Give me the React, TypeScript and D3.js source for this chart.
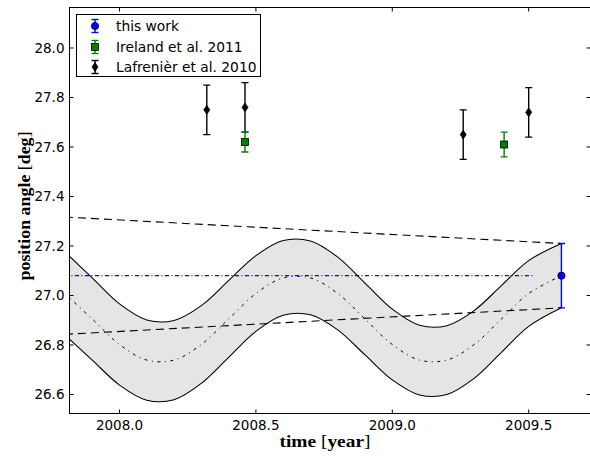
import React from "react";
import * as d3 from "d3";

// ---- data ----
const xTicks = [2008.0, 2008.5, 2009.0, 2009.5];
const yTicks = [26.6, 26.8, 27.0, 27.2, 27.4, 27.6, 27.8, 28.0];

const modelTimes = [2007.8, 2007.9, 2008.0, 2008.1, 2008.2, 2008.3, 2008.4, 2008.5, 2008.6, 2008.7, 2008.8, 2008.9, 2009.0, 2009.1, 2009.2, 2009.3, 2009.4, 2009.5, 2009.62];
const modelUpper = [27.176, 27.071, 26.966, 26.901, 26.899, 26.959, 27.06, 27.161, 27.222, 27.22, 27.155, 27.05, 26.945, 26.88, 26.878, 26.939, 27.04, 27.141, 27.21];
const modelLower = [26.84, 26.739, 26.638, 26.577, 26.579, 26.645, 26.75, 26.855, 26.92, 26.922, 26.861, 26.76, 26.659, 26.598, 26.6, 26.665, 26.77, 26.875, 26.95];
const modelCenter = [27.008, 26.905, 26.802, 26.739, 26.739, 26.802, 26.905, 27.008, 27.071, 27.071, 27.008, 26.905, 26.802, 26.739, 26.739, 26.802, 26.905, 27.008, 27.08];

const limitTimes = [2007.8, 2009.62];
const limitUpper = [27.317, 27.21];
const limitLower = [26.843, 26.95];

const constTimes = [2007.8, 2009.52];
const constValues = [27.08, 27.08];

const thisWorkT = [2009.62];
const thisWorkPA = [27.08];
const thisWorkErr = [0.13];

const irelandT = [2008.46, 2009.41];
const irelandPA = [27.62, 27.61];
const irelandErr = [0.04, 0.05];

const lafT = [2008.32, 2008.46, 2009.26, 2009.5];
const lafPA = [27.75, 27.76, 27.65, 27.74];
const lafErr = [0.1, 0.1, 0.1, 0.1];

const legendLabels = ["this work", "Ireland et al. 2011", "Lafrenièr et al. 2010"];

// ---- layout ----
const W = 590;
const H = 457;
const L = 69.5;
const R = 590.5;
const T = 7.5;
const B = 413.5;

const BLUE = "#0000ff";
const GREEN = "#007f00";
const FONT = "'DejaVu Sans', sans-serif";

export default function App() {
  const x = d3.scaleLinear().domain([2007.8167, 2009.7266]).range([L, R]);
  const y = d3.scaleLinear().domain([26.5232, 28.1636]).range([B, T]);

  const idx = modelTimes.map((_, i) => i);
  const area = d3
    .area<number>()
    .x((i) => x(modelTimes[i]))
    .y0((i) => y(modelLower[i]))
    .y1((i) => y(modelUpper[i]))
    .curve(d3.curveCatmullRom.alpha(0.5));
  const line = (vals: number[], times: number[], curve = true) => {
    const g = d3
      .line<number>()
      .x((i) => x(times[i]))
      .y((i) => y(vals[i]));
    if (curve) g.curve(d3.curveCatmullRom.alpha(0.5));
    return g(times.map((_, i) => i)) || "";
  };

  const diamond = (cx: number, cy: number, s = 1) =>
    `M${cx},${cy - 4.4 * s}L${cx + 3 * s},${cy}L${cx},${cy + 4.4 * s}L${cx - 3 * s},${cy}Z`;

  const errBar = (cx: number, y1: number, y2: number, color: string, key: string) => (
    <g key={key} stroke={color} strokeWidth={1.4}>
      <line x1={cx} x2={cx} y1={y1} y2={y2} />
      <line x1={cx - 3.5} x2={cx + 3.5} y1={y1} y2={y1} />
      <line x1={cx - 3.5} x2={cx + 3.5} y1={y2} y2={y2} />
    </g>
  );

  const legX = 95;
  const legRows = [26, 47, 67];

  return (
    <svg
      width={W}
      height={H}
      style={{ position: "absolute", left: 0, top: 0, background: "#fff" }}
      fontFamily={FONT}
    >
      <defs>
        <clipPath id="plot">
          <rect x={L} y={T} width={R - L} height={B - T} />
        </clipPath>
      </defs>
      <rect x={0} y={0} width={W} height={H} fill="#fff" />

      <g clipPath="url(#plot)">
        <path d={area(idx) || ""} fill="#e5e5e5" stroke="none" />
        <path d={line(modelUpper, modelTimes)} fill="none" stroke="#000" strokeWidth={1.1} />
        <path d={line(modelLower, modelTimes)} fill="none" stroke="#000" strokeWidth={1.1} />
        <path
          d={line(modelCenter, modelTimes)}
          fill="none"
          stroke="#000"
          strokeWidth={1}
          strokeDasharray="3,4.5,1,4.5"
        />
        <path d={line(limitUpper, limitTimes, false)} fill="none" stroke="#000" strokeWidth={1.1} strokeDasharray="8,5" />
        <path d={line(limitLower, limitTimes, false)} fill="none" stroke="#000" strokeWidth={1.1} strokeDasharray="8,5" />
        <path d={line(constValues, constTimes, false)} fill="none" stroke={BLUE} strokeWidth={1.2} strokeDasharray="4,2.5,1,2.5" />

        {lafT.map((t, i) =>
          errBar(x(t), y(lafPA[i] + lafErr[i]), y(lafPA[i] - lafErr[i]), "#000", "le" + i)
        )}
        {lafT.map((t, i) => (
          <path key={"lm" + i} d={diamond(x(t), y(lafPA[i]))} fill="#000" stroke="#000" strokeWidth={0.8} />
        ))}
        {irelandT.map((t, i) =>
          errBar(x(t), y(irelandPA[i] + irelandErr[i]), y(irelandPA[i] - irelandErr[i]), GREEN, "ie" + i)
        )}
        {irelandT.map((t, i) => (
          <rect
            key={"im" + i}
            x={x(t) - 3.5}
            y={y(irelandPA[i]) - 3.5}
            width={7}
            height={7}
            fill={GREEN}
            stroke="#000"
            strokeWidth={0.8}
          />
        ))}
        {thisWorkT.map((t, i) =>
          errBar(x(t), y(thisWorkPA[i] + thisWorkErr[i]), y(thisWorkPA[i] - thisWorkErr[i]), BLUE, "te" + i)
        )}
        {thisWorkT.map((t, i) => (
          <circle key={"tm" + i} cx={x(t)} cy={y(thisWorkPA[i])} r={3.6} fill={BLUE} stroke="#000" strokeWidth={0.8} />
        ))}
      </g>

      {/* frame */}
      <rect x={L} y={T} width={R - L} height={B - T} fill="none" stroke="#000" strokeWidth={1} />

      {/* x ticks */}
      {xTicks.map((t) => (
        <g key={"xt" + t}>
          <line x1={x(t)} x2={x(t)} y1={B} y2={B - 4} stroke="#000" />
          <line x1={x(t)} x2={x(t)} y1={T} y2={T + 4} stroke="#000" />
          <text x={x(t)} y={430} textAnchor="middle" fontSize={13.5} fill="#000">
            {t.toFixed(1)}
          </text>
        </g>
      ))}
      {/* y ticks */}
      {yTicks.map((v) => (
        <g key={"yt" + v}>
          <line x1={L} x2={L + 4} y1={y(v)} y2={y(v)} stroke="#000" />
          <line x1={R - 4} x2={R} y1={y(v)} y2={y(v)} stroke="#000" />
          <text x={64.5} y={y(v)} dy="0.36em" textAnchor="end" fontSize={13.5} fill="#000">
            {v.toFixed(1)}
          </text>
        </g>
      ))}

      {/* axis labels */}
      <text
        x={325}
        y={447}
        textAnchor="middle"
        fontFamily="'Liberation Serif', serif"
        fontSize={17.5}
        fontWeight="bold"
        textLength={91}
        lengthAdjust="spacingAndGlyphs"
      >
        time <tspan fontWeight="normal">[</tspan>year<tspan fontWeight="normal">]</tspan>
      </text>
      <text
        transform="translate(30,206) rotate(-90)"
        textAnchor="middle"
        fontFamily="'Liberation Serif', serif"
        fontSize={17.5}
        fontWeight="bold"
        textLength={149}
        lengthAdjust="spacingAndGlyphs"
      >
        position angle <tspan fontWeight="normal">[</tspan>deg<tspan fontWeight="normal">]</tspan>
      </text>

      {/* legend */}
      <rect x={76.5} y={14.5} width={184} height={62} fill="#fff" stroke="#000" strokeWidth={1} />
      {errBar(legX, legRows[0] - 6.5, legRows[0] + 6.5, BLUE, "lg0")}
      <circle cx={legX} cy={legRows[0]} r={3.6} fill={BLUE} stroke="#000" strokeWidth={0.8} />
      {errBar(legX, legRows[1] - 6.5, legRows[1] + 6.5, GREEN, "lg1")}
      <rect x={legX - 3.5} y={legRows[1] - 3.5} width={7} height={7} fill={GREEN} stroke="#000" strokeWidth={0.8} />
      {errBar(legX, legRows[2] - 6.5, legRows[2] + 6.5, "#000", "lg2")}
      <path d={diamond(legX, legRows[2])} fill="#000" stroke="#000" strokeWidth={0.8} />
      {legendLabels.map((s, i) => (
        <text key={"ll" + i} x={116} y={legRows[i]} dy="0.36em" fontSize={13.8} fill="#000">
          {s}
        </text>
      ))}
    </svg>
  );
}
